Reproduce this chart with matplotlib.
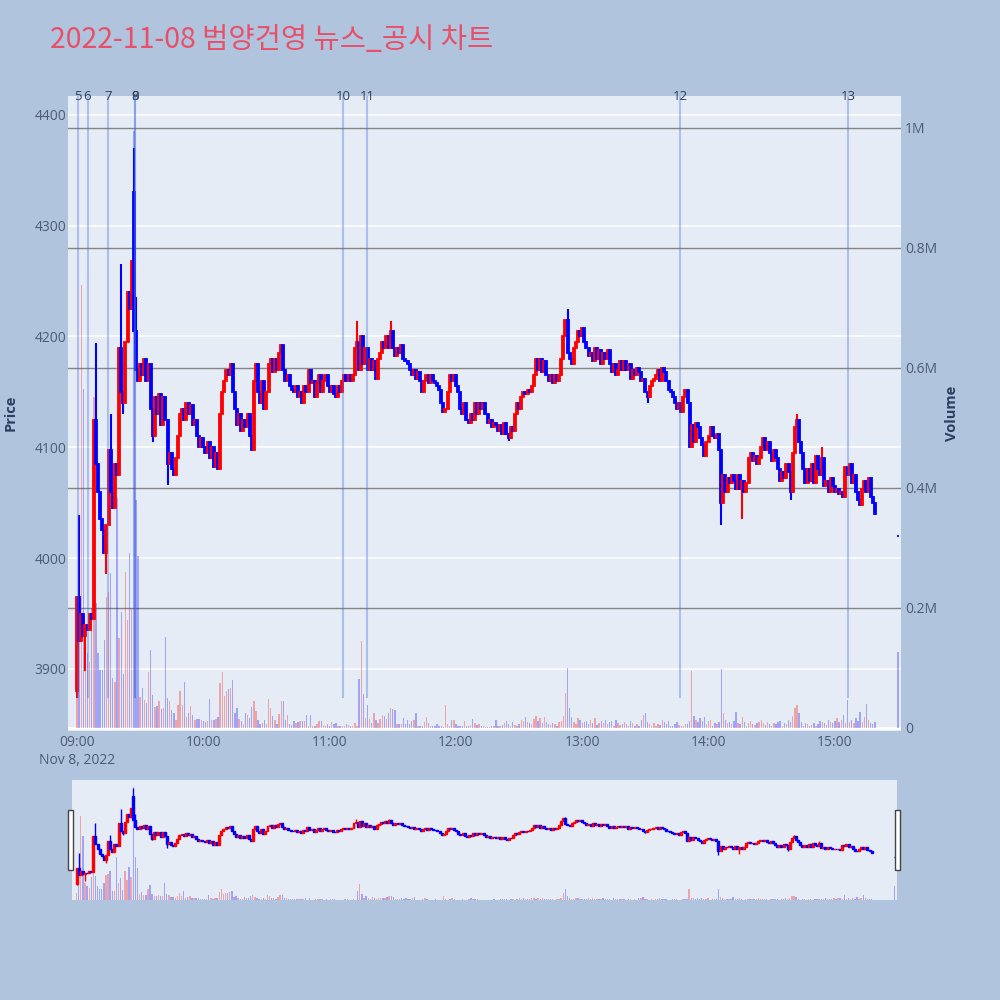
import matplotlib
matplotlib.use('Agg')
import matplotlib.pyplot as plt
import matplotlib.transforms as mtransforms
from matplotlib.patches import Rectangle
import numpy as np

plt.rcParams['font.family'] = ['Open Sans', 'Noto Sans CJK KR', 'DejaVu Sans']

title = '2022-11-08 범양건영 뉴스_공시 차트'

# --- data: 1-minute candles, minutes after 09:00 (last one = 15:30 closing) ---
minutes = list(range(380)) + [390]
closes = [
    3965, 3925, 3950, 3930, 3940, 3935, 3950, 3945, 4125, 4085,
    4060, 4035, 4025, 4005, 4030, 4098, 4060, 4045, 4085, 4075,
    4190, 4150, 4140, 4195, 4240, 4225, 4268, 4205, 4170, 4160,
    4175, 4165, 4180, 4160, 4175, 4135, 4110, 4145, 4130, 4148,
    4120, 4145, 4125, 4085, 4095, 4080, 4075, 4090, 4110, 4130,
    4135, 4125, 4140, 4130, 4138, 4120, 4125, 4110, 4100, 4108,
    4100, 4095, 4105, 4090, 4100, 4082, 4095, 4080, 4130, 4150,
    4160, 4170, 4165, 4175, 4150, 4135, 4120, 4130, 4115, 4125,
    4118, 4130, 4110, 4098, 4160, 4175, 4150, 4140, 4160, 4135,
    4150, 4175, 4180, 4168, 4180, 4170, 4185, 4192, 4170, 4160,
    4165, 4155, 4152, 4150, 4155, 4145, 4150, 4140, 4155, 4150,
    4170, 4158, 4160, 4145, 4158, 4165, 4150, 4160, 4165, 4155,
    4150, 4155, 4148, 4145, 4155, 4150, 4160, 4165, 4160, 4165,
    4160, 4165, 4190, 4195, 4170, 4200, 4175, 4190, 4170, 4180,
    4170, 4178, 4162, 4180, 4185, 4195, 4190, 4200, 4190, 4205,
    4190, 4182, 4190, 4185, 4192, 4180, 4178, 4175, 4170, 4165,
    4170, 4162, 4168, 4160, 4150, 4160, 4165, 4158, 4165, 4160,
    4158, 4155, 4152, 4140, 4132, 4135, 4150, 4165, 4160, 4165,
    4155, 4150, 4135, 4130, 4140, 4125, 4122, 4130, 4125, 4140,
    4130, 4140, 4135, 4140, 4130, 4122, 4125, 4118, 4122, 4120,
    4115, 4120, 4112, 4122, 4112, 4108, 4118, 4115, 4130, 4140,
    4135, 4145, 4150, 4148, 4152, 4150, 4155, 4165, 4180, 4170,
    4180, 4168, 4178, 4165, 4160, 4165, 4158, 4165, 4160, 4165,
    4180, 4200, 4215, 4185, 4180, 4175, 4190, 4195, 4205, 4200,
    4208, 4195, 4190, 4182, 4185, 4178, 4190, 4180, 4188, 4175,
    4185, 4180, 4188, 4175, 4168, 4175, 4165, 4170, 4178, 4170,
    4178, 4170, 4175, 4162, 4170, 4165, 4172, 4168, 4160, 4162,
    4150, 4145, 4155, 4160, 4162, 4165, 4170, 4160, 4172, 4168,
    4160, 4152, 4150, 4145, 4140, 4135, 4140, 4132, 4145, 4152,
    4140, 4100, 4120, 4105, 4122, 4118, 4108, 4102, 4092, 4105,
    4110, 4118, 4110, 4108, 4112, 4098, 4050, 4075, 4060, 4072,
    4068, 4075, 4070, 4062, 4075, 4062, 4070, 4060, 4068, 4090,
    4095, 4088, 4092, 4085, 4090, 4100, 4108, 4098, 4105, 4095,
    4088, 4098, 4090, 4080, 4070, 4078, 4072, 4085, 4078, 4060,
    4095, 4118, 4125, 4105, 4095, 4080, 4068, 4080, 4070, 4085,
    4068, 4092, 4080, 4075, 4090, 4065, 4070, 4060, 4072, 4065,
    4060, 4062, 4058, 4060, 4055, 4082, 4075, 4085, 4068, 4075,
    4060, 4052, 4048, 4062, 4070, 4060, 4072, 4055, 4050, 4040,
    4020,
]
# opens follow the previous close except at these minutes
open_fix_min = [0, 27, 390]
open_fix_val = [3880, 4330, 4020]
# wicks beyond the body
high_min = [1, 9, 16, 21, 27, 28, 133, 149, 233, 342, 354]
high_val = [4039, 4194, 4130, 4265, 4370, 4236, 4214, 4214, 4225, 4130, 4100]
low_min = [0, 4, 14, 22, 36, 43, 205, 271, 306, 316, 339]
low_val = [3874, 3898, 3986, 4130, 4105, 4066, 4106, 4140, 4030, 4035, 4052]

volumes_k = [
    60, 233, 738, 565, 150, 125, 110, 200, 552, 208,
    125, 97, 97, 147, 218, 227, 258, 83, 77, 383,
    150, 193, 90, 260, 180, 292, 200, 995, 380, 286,
    52, 67, 47, 42, 93, 130, 55, 35, 36, 45,
    32, 33, 152, 50, 45, 30, 25, 14, 39, 61,
    39, 76, 19, 25, 36, 22, 14, 15, 15, 13,
    11, 10, 11, 48, 14, 13, 15, 19, 75, 94,
    54, 61, 65, 67, 80, 25, 33, 15, 11, 7,
    25, 22, 16, 35, 45, 29, 14, 7, 8, 14,
    7, 48, 33, 20, 14, 6, 23, 45, 45, 14,
    22, 6, 5, 12, 8, 10, 11, 11, 11, 22,
    4, 22, 4, 3, 7, 11, 11, 5, 4, 7,
    4, 10, 6, 8, 4, 3, 3, 3, 6, 5,
    3, 3, 8, 4, 81, 145, 57, 17, 39, 15,
    8, 25, 14, 8, 15, 22, 20, 15, 25, 33,
    32, 30, 7, 6, 7, 17, 7, 14, 6, 11,
    14, 25, 4, 3, 4, 10, 19, 8, 3, 3,
    3, 6, 3, 3, 2, 39, 6, 4, 13, 14,
    6, 4, 4, 3, 11, 4, 3, 5, 15, 8,
    5, 6, 4, 4, 2, 2, 2, 3, 4, 13,
    4, 3, 5, 8, 12, 6, 4, 10, 5, 3,
    6, 14, 12, 18, 10, 8, 6, 15, 20, 12,
    16, 8, 18, 10, 6, 5, 8, 6, 4, 10,
    12, 20, 58, 100, 33, 18, 10, 6, 16, 14,
    8, 10, 12, 6, 14, 8, 16, 5, 8, 12,
    8, 14, 6, 10, 12, 4, 14, 8, 5, 6,
    10, 6, 4, 12, 8, 4, 6, 3, 14, 22,
    25, 10, 6, 4, 8, 3, 6, 5, 14, 10,
    6, 12, 4, 3, 6, 10, 5, 3, 4, 6,
    6, 12, 95, 20, 14, 10, 16, 12, 18, 6,
    12, 14, 4, 8, 6, 10, 98, 25, 14, 8,
    10, 6, 12, 27, 8, 6, 18, 10, 4, 8,
    12, 6, 5, 8, 10, 14, 8, 5, 10, 6,
    4, 8, 6, 10, 12, 4, 8, 6, 14, 10,
    20, 33, 38, 25, 10, 4, 8, 6, 3, 5,
    8, 4, 6, 12, 10, 8, 5, 14, 10, 8,
    12, 16, 10, 14, 22, 8, 47, 10, 14, 8,
    16, 12, 27, 10, 18, 40, 14, 8, 6, 10,
    127,
]

# news / disclosure markers
news_min = [0.5, 5, 14.7, 27.5, 27.7, 126.4, 137.8, 286.5, 366.3]
news_labels = ['5', '6', '7', '8', '9', '10', '11', '12', '13']

time_ticks = [0, 60, 120, 180, 240, 300, 360]
time_labels = ['09:00\nNov 8, 2022', '10:00', '11:00', '12:00', '13:00', '14:00', '15:00']
price_ticks = [3900, 4000, 4100, 4200, 4300, 4400]
vol_ticks = [0, 200000, 400000, 600000, 800000, 1000000]
vol_labels = ['0', '0.2M', '0.4M', '0.6M', '0.8M', '1M']

# --- build OHLC ---
t = np.array(minutes, dtype=float)
c = np.array(closes, dtype=float)
o = np.concatenate([[c[0]], c[:-1]])
for m, v in zip(open_fix_min, open_fix_val):
    o[minutes.index(m)] = v
h = np.maximum(o, c)
l = np.minimum(o, c)
for m, v in zip(high_min, high_val):
    h[minutes.index(m)] = v
for m, v in zip(low_min, low_val):
    l[minutes.index(m)] = v
vol = np.array(volumes_k, dtype=float) * 1000
up = c > o
cols = np.where(up, '#ff0000', '#0000ff')

BG = '#e5ecf6'
TICK_C = '#4d5b75'
LABEL_C = '#2a3f5f'


def draw_candles(ax, body_w, wick_lw, edge_lw):
    ax.vlines(t, l, h, colors=cols, lw=wick_lw, zorder=3)
    ax.bar(t, np.abs(c - o), bottom=np.minimum(o, c), width=body_w,
           color=cols, edgecolor=cols, linewidth=edge_lw, zorder=3)


fig = plt.figure(figsize=(10, 10), dpi=100, facecolor='#b0c4de')

# main panel: volume axes underneath, price axes on top
ax_vol = fig.add_axes([0.068, 0.269, 0.833, 0.635], facecolor=BG)
ax = ax_vol.twinx()

xlim = (-4.28, 391.4)
ax.set_xlim(*xlim)
ax.set_ylim(3844, 4417)
ax_vol.set_ylim(-5000, 1053000)

# gridlines (price: white, volume: gray)
blend = mtransforms.blended_transform_factory(ax_vol.transAxes, ax.transData)
for p in price_ticks:
    ax_vol.plot([0, 1], [p, p], transform=blend, color='white', lw=1.1, zorder=0.4)
for v in vol_ticks[1:]:
    ax_vol.axhline(v, color='#858585', lw=1, zorder=0.5)
ax_vol.axhline(0, color='white', lw=2, zorder=0.6)

ax_vol.bar(t, vol, width=0.65, color=cols, alpha=0.3, linewidth=0, zorder=1)
draw_candles(ax, 0.95, 1.5, 1.3)

# news lines and labels
for nm, lab in zip(news_min, news_labels):
    ax.axvline(nm, ymin=0.0535, ymax=1.0, color='#4169e1', alpha=0.35, lw=1.5, zorder=5)
    ax.text(nm, 1.0, lab, transform=ax.get_xaxis_transform(), ha='center', va='center',
            fontsize=9.5, color=LABEL_C, clip_on=False)

ax.yaxis.tick_left()
ax_vol.yaxis.tick_right()
ax.set_yticks(price_ticks)
ax.set_yticklabels([str(p) for p in price_ticks])
ax_vol.set_yticks(vol_ticks)
ax_vol.set_yticklabels(vol_labels)
ax_vol.set_xticks(time_ticks)
ax_vol.set_xticklabels(time_labels, linespacing=1.25)
ax.tick_params(axis='y', length=0, pad=1, labelsize=10, labelcolor=TICK_C)
ax_vol.tick_params(axis='y', length=0, pad=3, labelsize=10, labelcolor=TICK_C)
ax_vol.tick_params(axis='x', length=0, pad=3, labelsize=10, labelcolor=TICK_C)
ax.tick_params(axis='x', bottom=False, labelbottom=False)
for a in (ax, ax_vol):
    for s in a.spines.values():
        s.set_visible(False)

fig.text(0.011, 0.587, 'Price', rotation=90, ha='center', va='center',
         fontsize=10.5, fontweight='bold', color=LABEL_C)
fig.text(0.952, 0.587, 'Volume', rotation=90, ha='center', va='center',
         fontsize=10.5, fontweight='bold', color=LABEL_C)
fig.text(0.05, 0.960, title, ha='left', va='center', fontsize=20.5, color='#e8506a',
         family=['Noto Sans CJK KR', 'DejaVu Sans'])

# range slider
rs_vol = fig.add_axes([0.072, 0.100, 0.825, 0.120], facecolor=BG)
rs = rs_vol.twinx()
rs.set_xlim(-2.2, 391.1)
rs.set_ylim(3800, 4411)
rs_vol.set_ylim(0, 1060000)
rs_vol.bar(t, vol, width=0.65, color=cols, alpha=0.3, linewidth=0)
draw_candles(rs, 0.95, 1.0, 1.0)
for a in (rs, rs_vol):
    a.set_xticks([])
    a.set_yticks([])
    for s in a.spines.values():
        s.set_visible(False)
for hx in (0.068, 0.895):
    fig.add_artist(Rectangle((hx, 0.130), 0.005, 0.060, transform=fig.transFigure,
                             facecolor='white', edgecolor='#444444', lw=1))

fig.savefig('out.png', dpi=100, facecolor=fig.get_facecolor())
